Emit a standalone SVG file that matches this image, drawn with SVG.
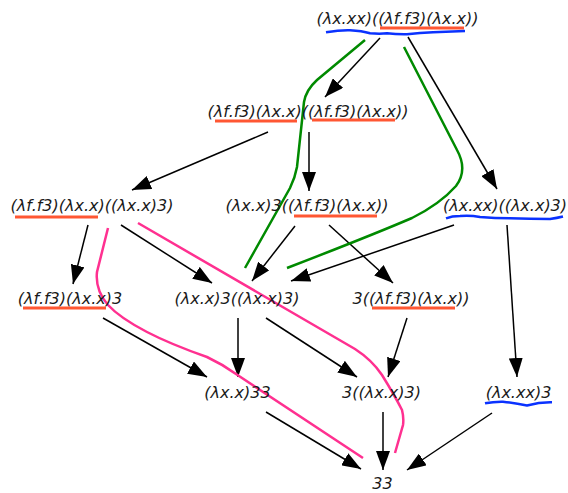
<svg xmlns="http://www.w3.org/2000/svg" width="568" height="493" viewBox="0 0 568 493">
<style>
text{font-family:"DejaVu Sans","Liberation Sans",sans-serif;font-style:italic;font-size:16px;fill:#1a1a1a;text-anchor:middle}
.e{stroke:#000;stroke-width:1.5;fill:none;marker-end:url(#a)}
.r{stroke:#ff5733;stroke-width:3;fill:none}
.b{stroke:#0a32ff;stroke-width:2.5;fill:none}
.g{stroke:#008a00;stroke-width:2.5;fill:none}
.p{stroke:#ff3090;stroke-width:2.5;fill:none}
</style>
<defs>
<marker id="a" markerWidth="20" markerHeight="14" refX="19" refY="7" orient="auto" markerUnits="userSpaceOnUse"><path d="M0,0 L19,7 L0,14 z" fill="#000"/></marker>
</defs>
<rect width="568" height="493" fill="#fff"/>
<g id="connectors">
<line class="e" x1="380" y1="38" x2="325" y2="97"/>
<line class="e" x1="408" y1="37" x2="497" y2="189"/>
<line class="e" x1="268" y1="132" x2="132" y2="190"/>
<line class="e" x1="309" y1="132" x2="309" y2="191"/>
<line class="e" x1="88" y1="225" x2="73" y2="284"/>
<line class="e" x1="121" y1="225" x2="212" y2="283"/>
<line class="e" x1="295" y1="226" x2="252" y2="281"/>
<line class="e" x1="329" y1="225" x2="393" y2="283"/>
<line class="e" x1="454" y1="225" x2="291" y2="281"/>
<line class="e" x1="507" y1="225" x2="517" y2="377"/>
<line class="e" x1="103" y1="318" x2="207" y2="377"/>
<line class="e" x1="238" y1="318" x2="238" y2="377"/>
<line class="e" x1="266" y1="318" x2="357" y2="377"/>
<line class="e" x1="407" y1="318" x2="388" y2="377"/>
<line class="e" x1="266" y1="412" x2="361" y2="469"/>
<line class="e" x1="383" y1="412" x2="383" y2="470"/>
<line class="e" x1="492" y1="413" x2="407" y2="470"/>
</g>
<g id="highlights">
<path class="g" d="M365,40 L317,80 Q306,90 304,102 L297,167 Q295,178 290,188 L245,268"/>
<path class="g" d="M404,47 L457,150 Q468,170 456,186 Q440,204 412,218 Q370,236 287,268"/>
<path class="p" d="M108,228 L97,272 Q95,290 108,305 Q120,318 147,332 Q170,344 207,357 Q222,364 236,374 L363,458"/>
<path class="p" d="M138,223 L355,349 Q372,360 382,375 Q395,396 402,410 Q404,418 403,425 L395,453"/>
</g>
<g id="n0">
<text x="397.5" y="23.5">(λx.xx)((λf.f3)(λx.x))</text>
<line class="r" x1="380" y1="28" x2="464" y2="28"/>
<path class="b" d="M326,32.3 Q340,30 350,30.3 Q362,31 370,33.3 Q380,34 387,33.3 Q397,34.5 407,34.3 Q420,33 433,32.3 L465,31"/>
</g>
<g id="n1">
<text x="308" y="117">(λf.f3)(λx.x)((λf.f3)(λx.x))</text>
<line class="r" x1="215" y1="121" x2="297" y2="121"/>
<line class="r" x1="312" y1="120" x2="395" y2="120"/>
</g>
<g id="n2">
<text x="92" y="210.5">(λf.f3)(λx.x)((λx.x)3)</text>
<line class="r" x1="15" y1="217" x2="98" y2="217"/>
</g>
<g id="n3">
<text x="307" y="210.5">(λx.x)3((λf.f3)(λx.x))</text>
<line class="r" x1="294" y1="216" x2="377" y2="216"/>
</g>
<g id="n4">
<text x="505" y="210.5">(λx.xx)((λx.x)3)</text>
<path class="b" d="M446,218.3 Q452,216 460,216 Q470,215 480,217 Q495,218.3 510,218.3 Q530,219 550,219 Q557,218 563,216.5"/>
</g>
<g id="n5">
<text x="70" y="304">(λf.f3)(λx.x)3</text>
<line class="r" x1="23" y1="308" x2="106" y2="308"/>
</g>
<g id="n6">
<text x="237" y="304">(λx.x)3((λx.x)3)</text>
</g>
<g id="n7">
<text x="411" y="304">3((λf.f3)(λx.x))</text>
<line class="r" x1="372" y1="308" x2="455" y2="308"/>
</g>
<g id="n8">
<text x="237.5" y="397.5">(λx.x)33</text>
</g>
<g id="n9">
<text x="381.5" y="397.5">3((λx.x)3)</text>
</g>
<g id="n10">
<text x="518.5" y="397.5">(λx.xx)3</text>
<path class="b" d="M485,403.3 Q494,401.5 503,401.7 Q515,403 527,405.5 Q540,402 552,402.3"/>
</g>
<g id="n11">
<text x="382.5" y="489">33</text>
</g>
</svg>
